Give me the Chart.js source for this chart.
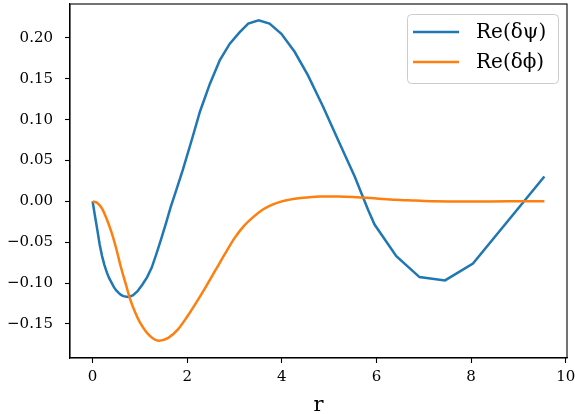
<!DOCTYPE html>
<html>
<head>
<meta charset="utf-8">
<script src="https://cdn.jsdelivr.net/npm/chart.js@4.4.1/dist/chart.umd.min.js"></script>
<style>
  html, body { margin: 0; padding: 0; background: #fff; }
  #wrap { width: 575px; height: 414px; }
</style>
</head>
<body>
<div id="wrap"><canvas id="c" width="575" height="414"></canvas></div>
<script>
// values
const psiR = [0, 0.05, 0.1, 0.15, 0.2, 0.25, 0.3, 0.35, 0.4, 0.45, 0.5, 0.55, 0.6, 0.65, 0.75, 0.85, 0.95, 1.05, 1.15, 1.25, 1.35, 1.45, 1.55, 1.65, 1.77, 1.91, 2.1, 2.27, 2.48, 2.69, 2.9, 3.11, 3.29, 3.51, 3.74, 3.99, 4.27, 4.55, 4.87, 5.22, 5.54, 5.82, 5.96, 6.42, 6.91, 7.45, 8.04, 9.55];
const psiRe = [0, -0.018, -0.035, -0.053, -0.067, -0.078, -0.087, -0.094, -0.0995, -0.105, -0.109, -0.112, -0.1145, -0.116, -0.117, -0.115, -0.11, -0.102, -0.093, -0.081, -0.064, -0.046, -0.027, -0.007, 0.014, 0.039, 0.076, 0.11, 0.144, 0.173, 0.193, 0.207, 0.2176, 0.2216, 0.2176, 0.205, 0.183, 0.1545, 0.116, 0.071, 0.0305, -0.01, -0.0284, -0.067, -0.0927, -0.0967, -0.076, 0.0305];

const phiR = [0, 0.1, 0.2, 0.3, 0.4, 0.5, 0.6, 0.7, 0.8, 0.9, 1.0, 1.2, 1.4, 1.6, 1.8, 2.0, 2.2, 2.4, 2.6, 2.8, 3.0, 3.2, 3.4, 3.6, 3.8, 4.0, 4.4, 4.8, 5.2, 5.6, 6.0, 6.4, 6.8, 7.2, 8.0, 8.8, 9.55];
const phiRe = [0, -0.002, -0.009, -0.022, -0.038, -0.058, -0.081, -0.101, -0.121, -0.136, -0.148, -0.164, -0.1705, -0.167, -0.157, -0.141, -0.123, -0.104, -0.084, -0.064, -0.045, -0.03, -0.019, -0.01, -0.004, 0, 0.004, 0.006, 0.006, 0.005, 0.0035, 0.002, 0.001, 0, -0.0003, 0, 0];

const xTicks = [0, 2, 4, 6, 8, 10];
const yTicks = [-0.15, -0.10, -0.05, 0.00, 0.05, 0.10, 0.15, 0.20];
const seriesNames = ['Re(\u03b4\u03c8)', 'Re(\u03b4\u03d5)'];

const SERIF = "'DejaVu Serif', 'Liberation Serif', serif";
const toPts = (xs, ys) => xs.map((x, i) => ({x: x, y: ys[i]}));

// frame + legend inside the axes, matplotlib style
const framePlugin = {
  id: 'frame',
  afterDraw(chart) {
    const ctx = chart.ctx, a = chart.chartArea;
    ctx.save();
    ctx.strokeStyle = '#000';
    ctx.lineWidth = 1.1;
    ctx.strokeRect(a.left, a.top, a.right - a.left, a.bottom - a.top);

    // legend
    const w = 151, h = 69;
    const bx = a.right - 9 - w, by = a.top + 10;
    ctx.beginPath();
    ctx.roundRect(bx + 0.5, by + 0.5, w, h, 4);
    ctx.fillStyle = 'rgba(255,255,255,0.8)';
    ctx.fill();
    ctx.strokeStyle = '#cccccc';
    ctx.lineWidth = 1;
    ctx.stroke();
    ctx.font = '20px ' + SERIF;
    ctx.textBaseline = 'middle';
    chart.data.datasets.forEach((ds, i) => {
      const y = by + 18 + i * 30;
      ctx.beginPath();
      ctx.moveTo(bx + 6, y);
      ctx.lineTo(bx + 52, y);
      ctx.strokeStyle = ds.borderColor;
      ctx.lineWidth = 2.5;
      ctx.stroke();
      ctx.fillStyle = '#000';
      ctx.fillText(ds.label, bx + 69, y + 1);
    });
    ctx.restore();
  }
};

new Chart(document.getElementById('c'), {
  type: 'line',
  data: {
    datasets: [
      { label: seriesNames[0], data: toPts(psiR, psiRe), borderColor: '#1f77b4', borderWidth: 2.5,
        pointRadius: 0, tension: 0, fill: false, order: 1 },
      { label: seriesNames[1], data: toPts(phiR, phiRe), borderColor: '#ff7f0e', borderWidth: 2.5,
        pointRadius: 0, cubicInterpolationMode: 'monotone', fill: false, order: 0 }
    ]
  },
  options: {
    responsive: false,
    animation: false,
    layout: { padding: { top: 4, right: 8, left: 0, bottom: 0 } },
    plugins: { legend: { display: false }, tooltip: { enabled: false } },
    scales: {
      x: {
        type: 'linear', min: -0.478, max: 10.028,
        afterBuildTicks: s => { s.ticks = xTicks.map(v => ({value: v})); },
        afterFit: s => { s.height = 56; s.paddingLeft = 0; s.paddingRight = 0; },
        ticks: { color: '#000', font: { family: SERIF, size: 15 }, padding: 5, maxRotation: 0,
                 callback: v => String(v) },
        grid: { drawOnChartArea: false, drawTicks: true, tickLength: 5, color: '#000', tickWidth: 1.1 },
        border: { display: true, color: '#000', width: 1.1 },
        title: { display: true, text: 'r', color: '#000', font: { family: SERIF, size: 21 }, padding: { top: 0, bottom: -4 } }
      },
      y: {
        min: -0.1917, max: 0.2415,
        afterBuildTicks: s => { s.ticks = yTicks.map(v => ({value: v})); },
        afterFit: s => { s.width = 70; s.paddingTop = 0; s.paddingBottom = 0; },
        ticks: { color: '#000', font: { family: SERIF, size: 15 }, padding: 12,
                 callback: v => (v < -1e-9 ? '\u2212' : '') + Math.abs(v).toFixed(2) },
        grid: { drawOnChartArea: false, drawTicks: true, tickLength: 5, color: '#000', tickWidth: 1.1 },
        border: { display: true, color: '#000', width: 1.1 }
      }
    }
  },
  plugins: [framePlugin]
});
</script>
</body>
</html>
